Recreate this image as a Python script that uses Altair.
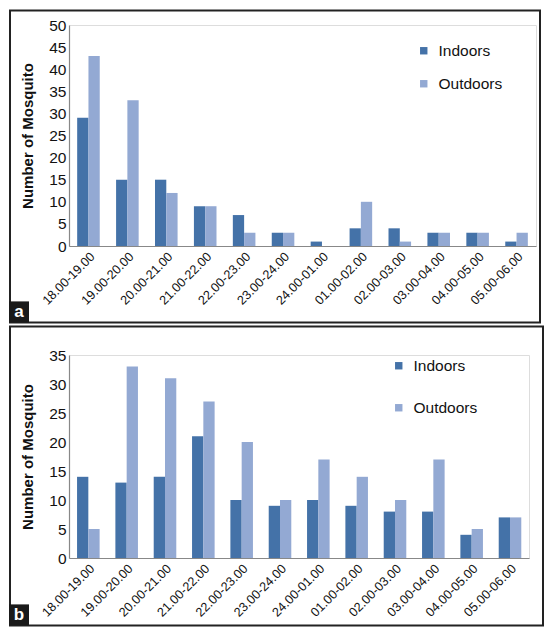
import altair as alt
import pandas as pd

slots = ["18.00-19.00", "19.00-20.00", "20.00-21.00", "21.00-22.00", "22.00-23.00",
         "23.00-24.00", "24.00-01.00", "01.00-02.00", "02.00-03.00", "03.00-04.00",
         "04.00-05.00", "05.00-06.00"]
series = ["Indoors", "Outdoors"]
a_indoors = [29, 15, 15, 9, 7, 3, 1, 4, 4, 3, 3, 1]
a_outdoors = [43, 33, 12, 9, 3, 3, 0, 10, 1, 3, 3, 3]
b_indoors = [14, 13, 14, 21, 10, 9, 10, 9, 8, 8, 4, 7]
b_outdoors = [5, 33, 31, 27, 20, 10, 17, 14, 10, 17, 5, 7]
colors = ["#4472A8", "#93A9D3"]

FONT = "Liberation Sans"


def long_df(ind, out):
    rows = []
    for s, i, o in zip(slots, ind, out):
        rows.append({"slot": s, "series": series[0], "count": i})
        rows.append({"slot": s, "series": series[1], "count": o})
    return pd.DataFrame(rows)


def panel(df, ymax, w, h, top_off, frame_h, frame_r, leg_x, leg_y, row_pad, tag):
    bars = alt.Chart(df).mark_bar().encode(
        x=alt.X("slot:N", sort=slots, title=None,
                scale=alt.Scale(paddingInner=0.42, paddingOuter=0.21),
                axis=alt.Axis(labelAngle=-45, labelFontSize=12.7, labelColor="#111",
                              ticks=False, domainColor="#888", domainWidth=1.2,
                              labelPadding=4, labelFont=FONT)),
        xOffset=alt.XOffset("series:N", sort=series),
        y=alt.Y("count:Q", title="Number of Mosquito",
                scale=alt.Scale(domain=[0, ymax], nice=False),
                axis=alt.Axis(values=list(range(0, ymax + 1, 5)), grid=False, ticks=False,
                              domainColor="#888", domainWidth=1.2, labelFontSize=15.5,
                              labelColor="#111", labelPadding=3, titleFontSize=15,
                              titleFontWeight="bold", titleColor="#111", titlePadding=13,
                              labelFont=FONT, titleFont=FONT)),
        color=alt.Color("series:N", sort=series,
                        scale=alt.Scale(domain=series, range=colors),
                        legend=alt.Legend(orient="none", legendX=leg_x, legendY=leg_y,
                                          title=None, symbolType="square", symbolSize=55,
                                          labelFontSize=15.5, labelFont=FONT, labelColor="#111",
                                          rowPadding=row_pad, labelOffset=7,
                                          symbolStrokeWidth=0)),
    )
    one = pd.DataFrame({"k": [0]})
    frame = alt.Chart(one).mark_rect(fill=None, stroke="#222", strokeWidth=2).encode(
        x=alt.value(-59), x2=alt.value(frame_r),
        y=alt.value(-top_off), y2=alt.value(frame_h - top_off),
    )
    box = alt.Chart(one).mark_rect(fill="#1a1a1a").encode(
        x=alt.value(-60), x2=alt.value(-40),
        y=alt.value(frame_h - top_off - 21), y2=alt.value(frame_h - top_off),
    )
    lab = alt.Chart(pd.DataFrame({"t": [tag]})).mark_text(
        color="white", fontSize=17, fontWeight="bold", font=FONT,
        align="center", baseline="middle").encode(
        text="t:N",
        x=alt.value(-50), y=alt.value(frame_h - top_off - 10),
    )
    return alt.layer(bars, frame, box, lab).properties(width=w, height=h)


pa = panel(long_df(a_indoors, a_outdoors), 50, 467, 221, 14.6, 312, 471, 347, 18, 16, "a")
pb = panel(long_df(b_indoors, b_outdoors), 35, 460, 203, 28.6, 299, 474, 322, 3, 25, "b")

chart = alt.vconcat(pa, pb, spacing=0).resolve_scale(color="independent").resolve_legend(
    color="independent").properties(padding=0).configure_view(stroke=None).configure(
    background="white", font=FONT)

chart.save("out.html", embed_options={"renderer": "svg", "actions": False})
